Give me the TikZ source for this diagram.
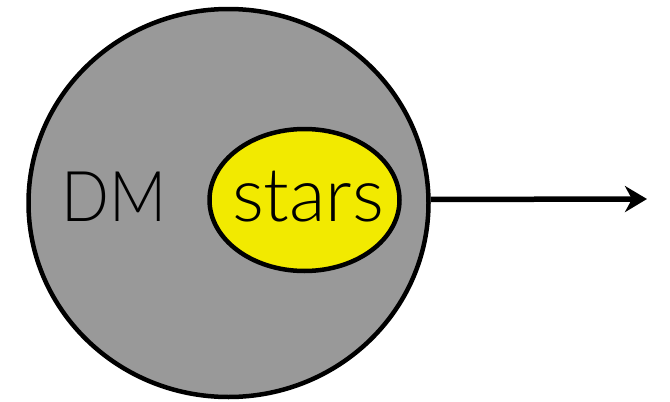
\documentclass[tikz,border=0pt]{standalone}
\usepackage{fontspec}
\setmainfont{Lato Light}
\usetikzlibrary{shapes.geometric,arrows.meta}
\definecolor{halo}{HTML}{999999}
\definecolor{starfill}{HTML}{F2EA00}
\tikzset{
  blob/.style={ellipse, draw=black, line width=4.5pt, inner sep=0pt},
  bigtext/.style={inner sep=0pt, anchor=base},
  flow/.style={line width=5.5pt, -{Stealth[length=22pt,width=26pt,inset=7pt]}}
}
\begin{document}
\begin{tikzpicture}[x=1pt,y=-1pt]
  \useasboundingbox (0,0) rectangle (670,402);
  % dark matter halo
  \node[blob, fill=halo, minimum width=400pt, minimum height=388pt] (halo) at (228.5,203) {};
  % stellar component
  \node[blob, fill=starfill, minimum width=190pt, minimum height=142pt] (stars) at (304.5,200) {};
  \node[bigtext, font=\fontsize{70}{70}\selectfont] (dmlabel) at (114,221.7) {\scalebox{0.9}[1]{DM}};
  \node[bigtext, font=\fontsize{75}{75}\selectfont] (starlabel) at (308,221.7) {stars};
  % outflow arrow
  \coordinate (tip) at (647,199);
  \draw[flow] (halo.1) -- (tip);
\end{tikzpicture}
\end{document}
